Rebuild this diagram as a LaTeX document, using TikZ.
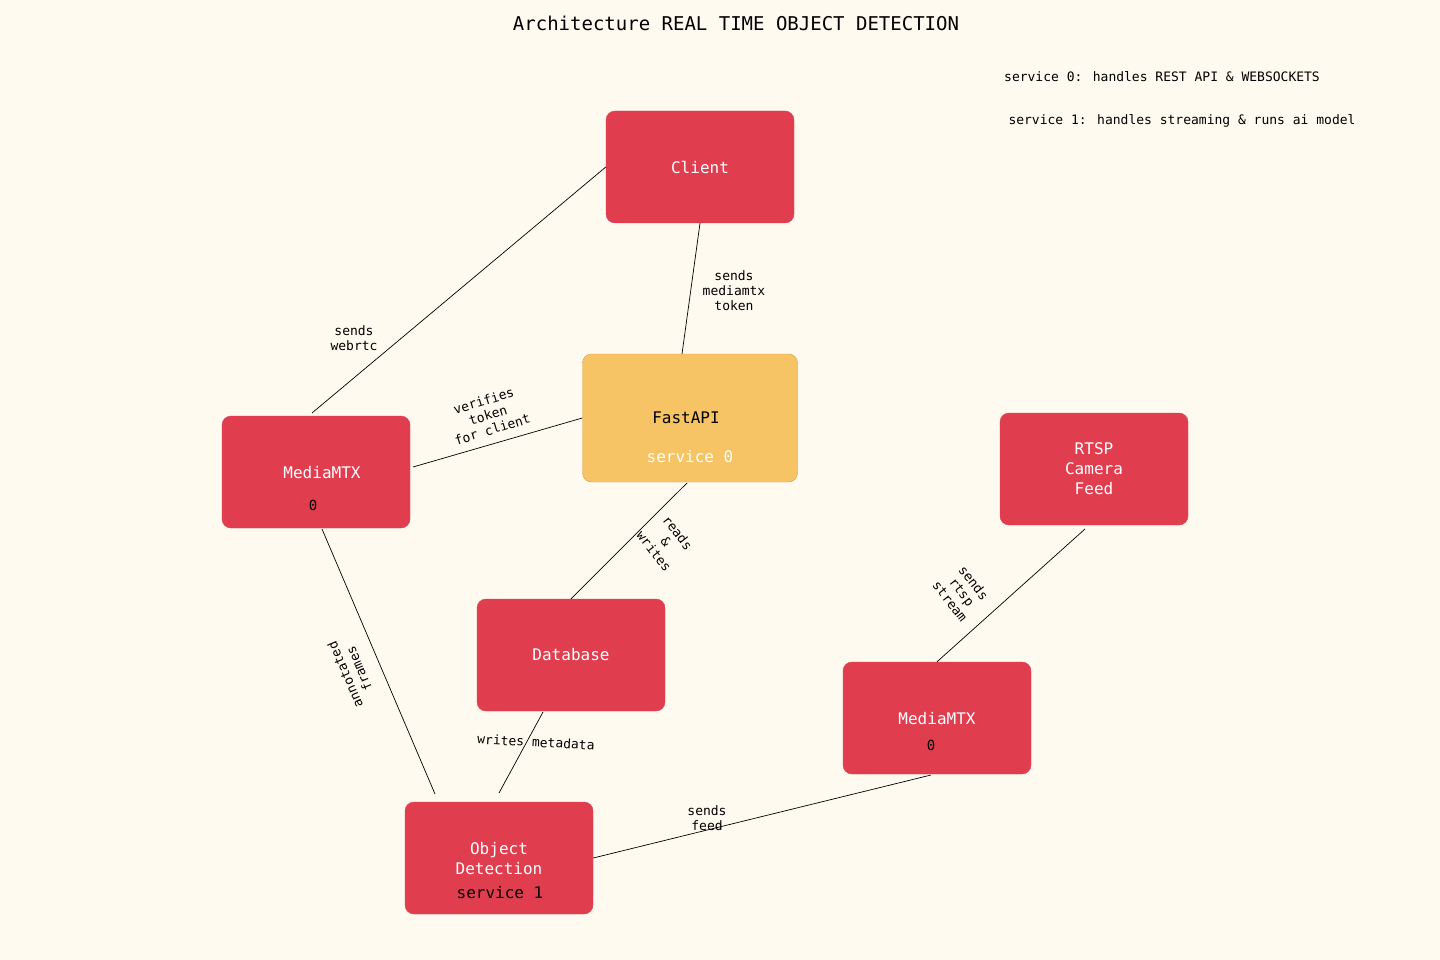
\documentclass[tikz,border=0pt]{standalone}
\usepackage{fontspec}
\setmainfont{DejaVu Sans Mono}
\usepackage{xcolor}
\usetikzlibrary{positioning}
\definecolor{bgc}{HTML}{FFFAF0}
\definecolor{boxred}{HTML}{E03D4F}
\definecolor{boxyel}{HTML}{F7C465}
\definecolor{boxyeld}{HTML}{D9A040}
\begin{document}
\begin{tikzpicture}[x=1pt,y=-1pt,
  box/.style={draw=boxred, fill=boxred, rounded corners=9pt, minimum width=188pt, minimum height=112pt, inner sep=0pt},
  ybox/.style={draw=boxyeld, fill=boxyel, rounded corners=9pt, minimum width=215pt, minimum height=128pt, inner sep=0pt},
  wt/.style={text=white, font=\fontsize{16}{18}\selectfont, align=center},
  bt/.style={text=black, font=\fontsize{14}{16}\selectfont, align=center},
  lbl/.style={font=\fontsize{13}{15}\selectfont, align=center, inner sep=1pt},
  link/.style={black, line width=0.7pt}]
% Background
\fill[bgc] (0,0) rectangle (1440,960);

% Title and notes
\node[font=\fontsize{19}{21}\selectfont] (title) at (736,23) {Architecture REAL TIME OBJECT DETECTION};
\node[lbl] (note0) at (1162,77) {service 0: handles REST API \& WEBSOCKETS};
\node[lbl] (note1) at (1182,121) {service 1: handles streaming \& runs ai model};

% Boxes
\node[box] (client) at (700,167) {};
\node[wt] at (client) {Client};
\node[ybox] (fastapi) at (690,418) {};
\node[bt, font=\fontsize{16}{18}\selectfont] at (686,418) {FastAPI};
\node[wt] at (690,457) {service 0};
\node[box] (mtxa) at (316,472) {};
\node[wt] at (322,473) {MediaMTX};
\node[bt] at (313,505) {0};
\node[box] (rtsp) at (1094,469) {};
\node[wt, font=\fontsize{16}{20}\selectfont] at (rtsp) {RTSP\\Camera\\Feed};
\node[box] (db) at (571,655) {};
\node[wt] at (db) {Database};
\node[box] (mtxb) at (937,718) {};
\node[wt] at (937,719) {MediaMTX};
\node[bt] at (931,745) {0};
\node[box] (detect) at (499,858) {};
\node[wt, font=\fontsize{16}{20}\selectfont] at (499,859) {Object\\Detection};
\node[bt, font=\fontsize{16}{18}\selectfont] at (500,893) {service 1};

% Connectors
\draw[link] (client.west) -- (312,413);
\draw[link] (client.south) -- (682,354);
\draw[link] (fastapi.west) -- (413,467);
\draw[link] (687,483) -- (db.north);
\draw[link] (1085,529) -- (mtxb.north);
\draw[link] (322,529) -- (435,794);
\draw[link] (543,712) -- (499,793);
\draw[link] (detect.east) -- (931,775);

% Labels
\node[lbl] (l1) at (354,338) {sends\\webrtc};
\node[lbl] (l2) at (734,291) {sends\\mediamtx\\token};
\node[lbl, rotate=17] (l3) at (488,415) {verifies\\token\\for client};
\node[lbl, rotate=-52] (l4) at (666,542) {reads\\\&\\writes};
\node[lbl, rotate=-52] (l5) at (962,592) {sends\\rtsp\\stream};
\node[lbl, rotate=113] (l6) at (352,672) {annotated\\frames};
\node[lbl, rotate=-3] (l7) at (536,742) {writes metadata};
\node[lbl] (l8) at (707,818) {sends\\feed};
\end{tikzpicture}
\end{document}
